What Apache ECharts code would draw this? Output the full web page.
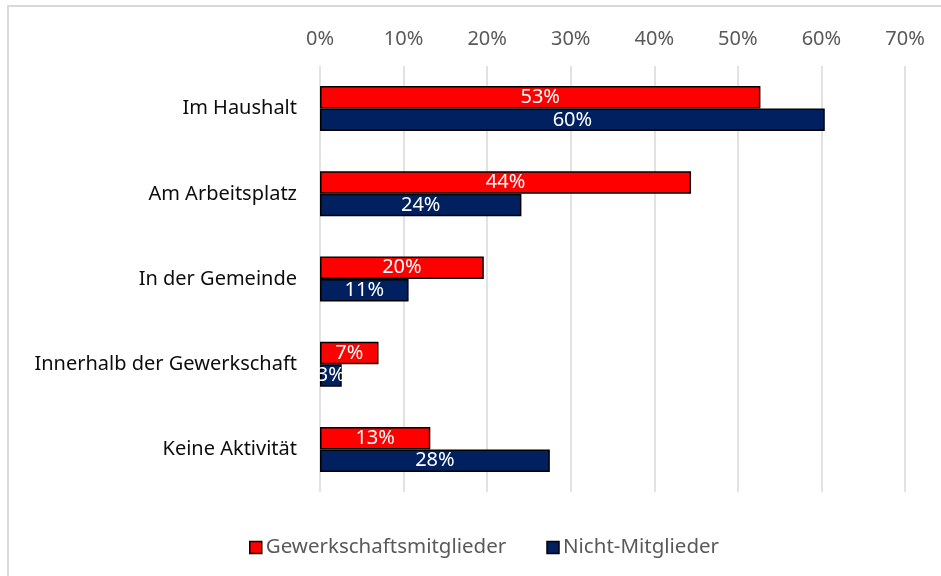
<!DOCTYPE html>
<html>
<head>
<meta charset="utf-8">
<script src="https://cdn.jsdelivr.net/npm/echarts@6/dist/echarts.min.js"></script>
<style>
  html, body { margin: 0; padding: 0; background: #fff; }
  #chart { width: 941px; height: 576px; }
</style>
</head>
<body>
<div id="chart"></div>
<script>
// Kategorien und Werte (in Prozent)
const categories = ['Im Haushalt', 'Am Arbeitsplatz', 'In der Gemeinde', 'Innerhalb der Gewerkschaft', 'Keine Aktivität'];
const mitglieder = [52.7, 44.4, 19.6, 7.0, 13.2];
const nichtMitglieder = [60.4, 24.1, 10.6, 2.6, 27.5];
const seriesNames = ['Gewerkschaftsmitglieder', 'Nicht-Mitglieder'];

const font = 'Noto Sans';

var myChart = echarts.init(document.getElementById('chart'));

const barSeries = (name, values, color) => ({
    name: name,
    type: 'bar',
    data: values,
    barWidth: 22.5,
    barGap: '0%',
    itemStyle: {
        color: color,
        borderColor: '#000',
        borderWidth: 1.5
    },
    label: {
        show: true,
        position: 'inside',
        color: '#fff',
        fontFamily: font,
        fontSize: 20,
        padding: [2, 0, 0, 0],
        formatter: p => Math.round(p.value) + '%'
    }
});

myChart.setOption({
    animation: false,
    graphic: [{
        type: 'rect',
        shape: { x: 8, y: 6, width: 1200, height: 1200 },
        style: { fill: 'none', stroke: '#d9d9d9', lineWidth: 2 },
        silent: true
    }],
    legend: {
        left: 244,
        top: 532,
        icon: 'rect',
        itemWidth: 12,
        itemHeight: 12,
        itemGap: 40,
        itemStyle: { borderColor: '#000', borderWidth: 1.5 },
        textStyle: { color: '#595959', fontFamily: font, fontSize: 20.5, padding: [0, 0, 0, -1] },
        data: seriesNames
    },
    grid: {
        left: 320,
        right: 36,
        top: 66,
        bottom: 84
    },
    xAxis: {
        type: 'value',
        position: 'top',
        min: 0,
        max: 70,
        interval: 10,
        axisLine: { show: false },
        axisTick: { show: false },
        splitLine: { lineStyle: { color: '#d9d9d9', width: 1.5 } },
        axisLabel: {
            color: '#595959',
            fontFamily: font,
            fontSize: 20,
            margin: 17,
            formatter: '{value}%'
        }
    },
    yAxis: {
        type: 'category',
        inverse: true,
        data: categories,
        axisLine: { show: false },
        axisTick: { show: false },
        axisLabel: {
            color: '#0d0d0d',
            fontFamily: font,
            fontSize: 20,
            margin: 23,
            padding: [3, 0, 0, 0]
        }
    },
    series: [
        barSeries(seriesNames[0], mitglieder, '#ff0000'),
        barSeries(seriesNames[1], nichtMitglieder, '#002060')
    ]
});
</script>
</body>
</html>
